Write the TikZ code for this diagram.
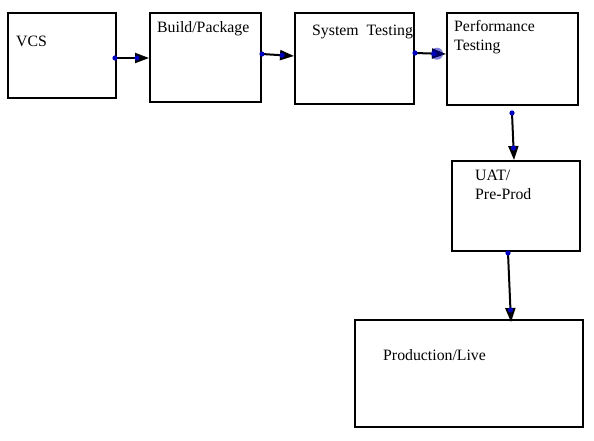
\documentclass[tikz,border=0pt]{standalone}
\usepackage{fontspec}
\setmainfont{Liberation Serif}
\usetikzlibrary{positioning, calc, arrows.meta}

\begin{document}
\begin{tikzpicture}[x=1pt, y=-1pt,
    stage/.style={draw, line width=2pt, anchor=north west, inner sep=0pt},
    caption/.style={anchor=base west, inner sep=0pt, align=left,
        font=\fontsize{15.8}{19}\selectfont},
    flow/.style={line width=2pt, -{Triangle[length=14pt, width=10pt]}},
    knob/.style={fill=blue!75!black}]
\useasboundingbox (0,0) rectangle (594,441);

% stages of the pipeline
\node[stage, minimum width=108pt, minimum height=85pt] (vcs) at (7,12) {};
\node[stage, minimum width=111pt, minimum height=89pt] (build) at (149,12) {};
\node[stage, minimum width=119pt, minimum height=91pt] (systest) at (294,12) {};
\node[stage, minimum width=131pt, minimum height=92pt] (perftest) at (446,12) {};
\node[stage, minimum width=128pt, minimum height=90pt] (uat) at (451,160) {};
\node[stage, minimum width=228pt, minimum height=107pt] (prod) at (354,319) {};

% captions (base of the last line)
\node[caption] (vcs-txt) at (16,47) {VCS};
\node[caption] (build-txt) at (157,33) {Build/Package};
\node[caption] (systest-txt) at (312,36) {System\ \ Testing};
\node[caption] (perftest-txt) at (454,51) {Performance\\Testing};
\node[caption] (uat-txt) at (475,199) {UAT/\\Pre-Prod};
\node[caption] (prod-txt) at (383,360) {Production/Live};

% connectors
\coordinate (c1a) at ($(vcs.east)+(-2,2.5)$);
\coordinate (c1b) at ($(build.west)+(0,0.5)$);
\coordinate (c2a) at ($(build.east)+(0,-3.5)$);
\coordinate (c2b) at ($(systest.west)+(0,-2.5)$);
\coordinate (c3a) at ($(systest.east)+(0,-5.5)$);
\coordinate (c3b) at ($(perftest.west)+(0,-5)$);
\coordinate (c4a) at ($(perftest.south)+(-0.5,7)$);
\coordinate (c4b) at ($(uat.north)+(-2,0)$);
\coordinate (c5a) at ($(uat.south)+(-8,1)$);
\coordinate (c5b) at ($(prod.north)+(42,3)$);

\draw[flow] (c1a) -- (c1b);
\draw[flow] (c2a) -- (c2b);
\draw[flow] (c3a) -- (c3b);
\draw[flow] (c4a) -- (c4b);
\draw[flow] (c5a) -- (c5b);

\fill[knob, opacity=0.5] ($(c3b)!9pt!(c3a)$) circle (6pt);
\foreach \a/\b in {c1a/c1b, c2a/c2b, c3a/c3b, c4a/c4b, c5a/c5b}
    \fill[knob] (\a) circle (2.6pt) ($(\b)!12pt!(\a)$) circle (2.6pt);
\end{tikzpicture}
\end{document}
